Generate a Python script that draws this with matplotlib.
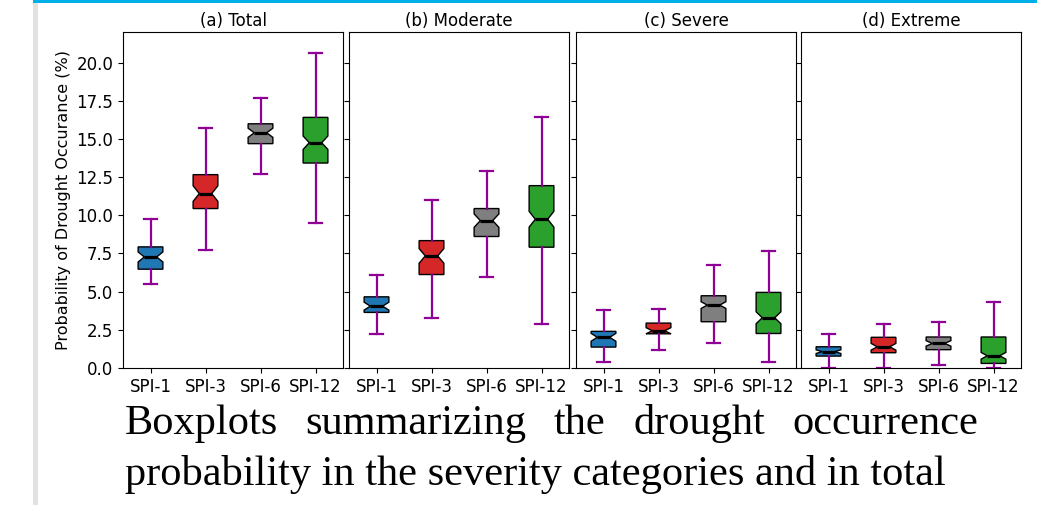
import numpy as np
import matplotlib
matplotlib.use('Agg')
import matplotlib.pyplot as plt
from matplotlib.patches import Rectangle

plt.rcParams['font.family'] = 'DejaVu Sans'
plt.rcParams['font.size'] = 12

labels = ['SPI-1', 'SPI-3', 'SPI-6', 'SPI-12']
titles = ['(a) Total', '(b) Moderate', '(c) Severe', '(d) Extreme']
colors = ['#1f77b4', '#d62728', '#7f7f7f', '#2ca02c']

# whisker low, Q1, median, Q3, whisker high, notch half-width
whislo = [[5.49, 7.71, 12.72, 9.52],
          [2.24, 3.25, 5.95, 2.90],
          [0.39, 1.20, 1.61, 0.39],
          [0.00, 0.00, 0.17, 0.00]]
q1 = [[6.47, 10.44, 14.69, 13.42],
      [3.64, 6.12, 8.61, 7.91],
      [1.37, 2.24, 3.03, 2.26],
      [0.78, 1.00, 1.20, 0.30]]
med = [[7.27, 11.42, 15.40, 14.75],
       [4.05, 7.34, 9.65, 9.74],
       [2.01, 2.44, 4.12, 3.29],
       [1.07, 1.39, 1.61, 0.80]]
q3 = [[7.93, 12.66, 15.99, 16.41],
      [4.66, 8.34, 10.44, 11.94],
      [2.40, 2.94, 4.73, 4.95],
      [1.39, 2.01, 2.03, 2.03]]
whishi = [[9.74, 15.73, 17.67, 20.61],
          [6.06, 11.02, 12.92, 16.41],
          [3.83, 3.86, 6.73, 7.67],
          [2.24, 2.85, 3.03, 4.33]]
notch = [[0.33, 0.51, 0.30, 0.44],
         [0.26, 0.48, 0.44, 0.52],
         [0.26, 0.20, 0.22, 0.39],
         [0.12, 0.22, 0.18, 0.22]]

W, H = 1037, 505
fig = plt.figure(figsize=(W / 100, H / 100), dpi=100)

# page decorations: grey margin bar and blue rule on top
fig.add_artist(Rectangle((33 / W, 0), 5 / W, 1, transform=fig.transFigure,
                         color='#e2e2e2', lw=0))
fig.add_artist(Rectangle((33 / W, 1 - 2.5 / H), 1 - 33 / W, 2.5 / H,
                         transform=fig.transFigure, color='#00aee8', lw=0))

lefts = [123, 349, 576, 801]
axw, top, bot = 220, 32, 368
axes = []
for i in range(4):
    if i == 0:
        ax = fig.add_axes([lefts[i] / W, 1 - bot / H, axw / W, (bot - top) / H])
    else:
        ax = fig.add_axes([lefts[i] / W, 1 - bot / H, axw / W, (bot - top) / H],
                          sharey=axes[0])
        ax.tick_params(labelleft=False)
    axes.append(ax)

    stats = []
    for j in range(4):
        stats.append(dict(med=med[i][j], q1=q1[i][j], q3=q3[i][j],
                          whislo=whislo[i][j], whishi=whishi[i][j],
                          cilo=med[i][j] - notch[i][j], cihi=med[i][j] + notch[i][j],
                          fliers=[], label=labels[j]))
    bp = ax.bxp(stats, positions=[1, 2, 3, 4], patch_artist=True, shownotches=True,
                showfliers=False,
                boxprops=dict(edgecolor='black', linewidth=1.0),
                medianprops=dict(color='black', linewidth=2.3),
                whiskerprops=dict(color='#8f0096', linewidth=1.6),
                capprops=dict(color='#8f0096', linewidth=1.6))
    for patch, c in zip(bp['boxes'], colors):
        patch.set_facecolor(c)
    ax.set_title(titles[i], fontsize=12, pad=4)
    ax.set_xlim(0.5, 4.5)

axes[0].set_ylim(0, 22)
axes[0].set_yticks([0, 2.5, 5, 7.5, 10, 12.5, 15, 17.5, 20])
axes[0].set_yticklabels(['0.0', '2.5', '5.0', '7.5', '10.0', '12.5', '15.0', '17.5', '20.0'])
axes[0].set_ylabel('Probability of Drought Occurance (%)', fontsize=11.5)

# caption, first line justified
words1 = ['Boxplots', 'summarizing', 'the', 'drought', 'occurrence']
line2 = 'probability in the severity categories and in total'
cap_font = dict(family='Liberation Serif', fontsize=30.5, color='black')
x0, x1 = 125, 978
fig.canvas.draw()
renderer = fig.canvas.get_renderer()
texts = [fig.text(0, 1 - 434 / H, w, va='baseline', ha='left', **cap_font) for w in words1]
widths = [t.get_window_extent(renderer).width for t in texts]
gap = (x1 - x0 - sum(widths)) / (len(words1) - 1)
x = x0
for t, w in zip(texts, widths):
    t.set_x(x / W)
    x += w + gap
fig.text(x0 / W, 1 - 485 / H, line2, va='baseline', ha='left', **cap_font)

fig.savefig('out.png', dpi=100)
